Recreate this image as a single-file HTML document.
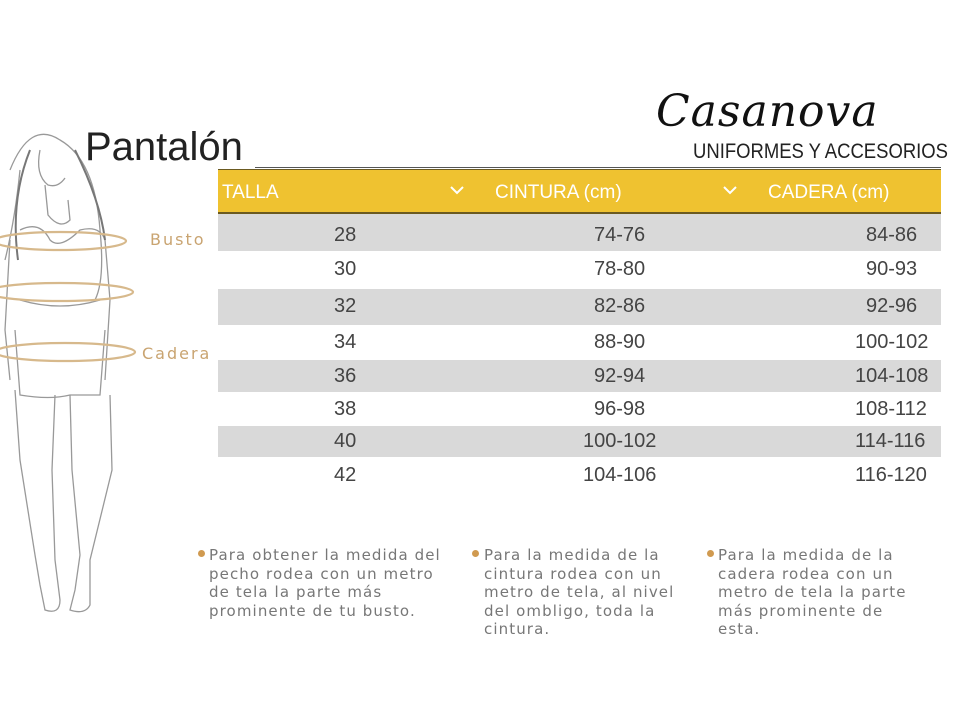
<!DOCTYPE html>
<html><head><meta charset="utf-8"><style>
html,body{margin:0;padding:0;background:#fff;}
body{width:960px;height:720px;position:relative;overflow:hidden;font-family:"Liberation Sans",sans-serif;}
.abs{position:absolute;}
.row{position:absolute;left:218px;width:723px;}
.g{background:#d9d9d9;}
.t{position:absolute;font-size:20px;color:#444;line-height:20px;}
.note{position:absolute;font-size:15px;color:#777;line-height:18.5px;letter-spacing:1.1px;font-family:"DejaVu Sans","Liberation Sans",sans-serif;white-space:nowrap;}
.dot{position:absolute;width:7px;height:7px;border-radius:50%;background:#d09a50;}
.hd{position:absolute;top:182px;color:#fff;font-size:19px;}
.chev{position:absolute;top:184px;}
</style></head><body>
<svg class="abs" style="left:0;top:0" width="260" height="640">
 <g fill="none" stroke="#999" stroke-width="1.3">
  <path d="M10 170 Q30 120 60 140 Q95 160 100 230 Q105 280 95 300"/>
  <path d="M20 170 Q15 220 5 260"/>
  <path d="M40 150 Q35 175 48 185 Q58 188 65 178"/>
  <path d="M45 185 L48 215 Q60 230 70 220 L68 200"/>
  <path d="M20 230 Q40 220 50 240 Q60 250 80 230 Q100 225 105 240 L110 300 L105 380"/>
  <path d="M10 240 L5 330 L10 380"/>
  <path d="M20 300 Q60 312 100 300"/>
  <path d="M15 330 L20 395 Q50 400 70 395 L100 395 L105 330"/>
  <path d="M15 390 L20 460 L35 555 L40 585 L45 610 Q60 615 60 600 L55 560 L52 470 L55 395"/>
  <path d="M70 395 L72 470 L80 555 L75 590 L70 610 Q85 615 90 605 L90 560 L112 470 L110 395"/>
 </g>
 <g stroke="#777" stroke-width="2" fill="none"><path d="M30 150 Q10 200 18 260"/><path d="M75 150 Q100 200 105 240"/></g>
 <g fill="none" stroke="#d7b98c" stroke-width="2.2">
  <ellipse cx="60" cy="241" rx="66" ry="9"/>
  <ellipse cx="60" cy="292" rx="73" ry="9"/>
  <ellipse cx="65" cy="352" rx="70" ry="9"/>
 </g>
 <text x="150" y="245" font-family="DejaVu Sans,sans-serif" font-size="16" fill="#c9a471" letter-spacing="2">Busto</text>
 <text x="142" y="359" font-family="DejaVu Sans,sans-serif" font-size="16" fill="#c9a471" letter-spacing="2">Cadera</text>
</svg>
<div class="abs" style="left:85px;top:125px;font-size:40px;color:#222;">Pantalón</div>
<div class="abs" style="left:255px;top:167px;width:686px;height:1px;background:#555;"></div>
<div class="abs" style="left:656px;top:86px;font-family:'DejaVu Serif',serif;font-style:italic;font-size:44px;color:#111;letter-spacing:1px;white-space:nowrap;">Casanova</div>
<div class="abs" style="left:693px;top:140px;font-size:21px;color:#222;white-space:nowrap;transform:scaleX(0.88);transform-origin:left;">UNIFORMES Y ACCESORIOS</div>
<div class="row" style="top:169px;height:42px;background:#efc230;border-top:1px solid #6b5a20;border-bottom:2px solid #6b5a20;"></div>
<div class="hd" style="left:222px">TALLA</div>
<div class="hd" style="left:495px">CINTURA (cm)</div>
<div class="hd" style="left:768px">CADERA (cm)</div>
<svg class="chev" style="left:449px" width="16" height="12"><path d="M2 3 L8 9 L14 3" fill="none" stroke="#fff" stroke-width="2"/></svg>
<svg class="chev" style="left:722px" width="16" height="12"><path d="M2 3 L8 9 L14 3" fill="none" stroke="#fff" stroke-width="2"/></svg>
<div class="row g" style="top:214px;height:37px"></div>
<div class="row g" style="top:289px;height:36px"></div>
<div class="row g" style="top:360px;height:32px"></div>
<div class="row g" style="top:426px;height:31px"></div>
<div class="t" style="left:334px;top:225px">28</div><div class="t" style="left:594px;top:225px">74-76</div><div class="t" style="left:866px;top:225px">84-86</div>
<div class="t" style="left:334px;top:259px">30</div><div class="t" style="left:594px;top:259px">78-80</div><div class="t" style="left:866px;top:259px">90-93</div>
<div class="t" style="left:334px;top:296px">32</div><div class="t" style="left:594px;top:296px">82-86</div><div class="t" style="left:866px;top:296px">92-96</div>
<div class="t" style="left:334px;top:332px">34</div><div class="t" style="left:594px;top:332px">88-90</div><div class="t" style="left:855px;top:332px">100-102</div>
<div class="t" style="left:334px;top:366px">36</div><div class="t" style="left:594px;top:366px">92-94</div><div class="t" style="left:855px;top:366px">104-108</div>
<div class="t" style="left:334px;top:399px">38</div><div class="t" style="left:594px;top:399px">96-98</div><div class="t" style="left:855px;top:399px">108-112</div>
<div class="t" style="left:334px;top:431px">40</div><div class="t" style="left:583px;top:431px">100-102</div><div class="t" style="left:855px;top:431px">114-116</div>
<div class="t" style="left:334px;top:465px">42</div><div class="t" style="left:583px;top:465px">104-106</div><div class="t" style="left:855px;top:465px">116-120</div>
<div class="dot" style="left:198px;top:550px"></div>
<div class="note" style="left:209px;top:546px">Para obtener la medida del<br>pecho rodea con un metro<br>de tela la parte más<br>prominente de tu busto.</div>
<div class="dot" style="left:472px;top:550px"></div>
<div class="note" style="left:484px;top:546px">Para la medida de la<br>cintura rodea con un<br>metro de tela, al nivel<br>del ombligo, toda la<br>cintura.</div>
<div class="dot" style="left:707px;top:550px"></div>
<div class="note" style="left:718px;top:546px">Para la medida de la<br>cadera rodea con un<br>metro de tela la parte<br>más prominente de<br>esta.</div>
</body></html>
